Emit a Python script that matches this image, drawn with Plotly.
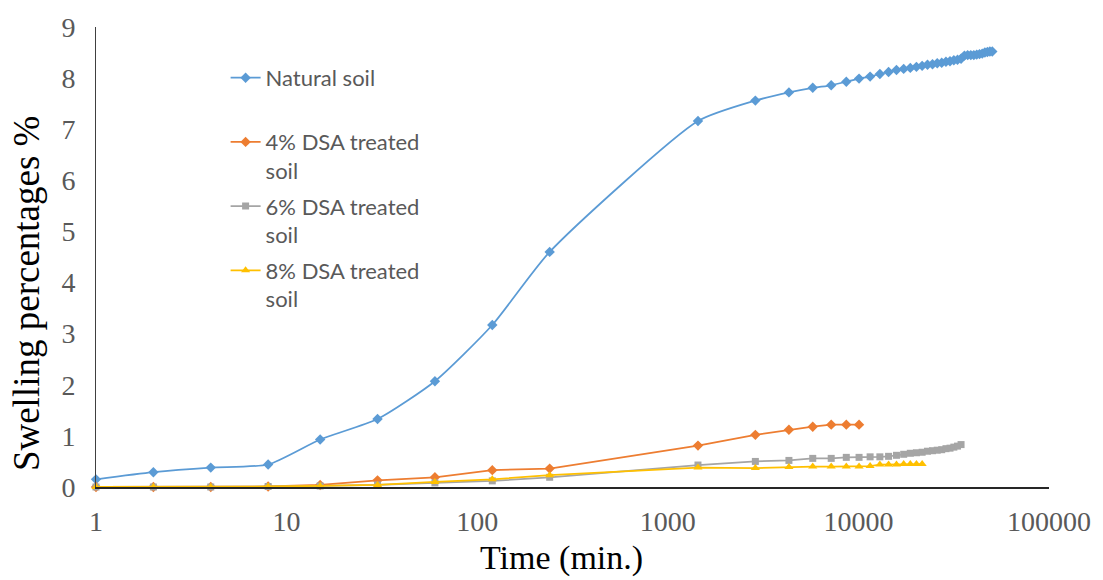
import plotly.graph_objects as go

natural_time = [1, 2, 4, 8, 15, 30, 60, 120, 240, 1440, 2880, 4320, 5760, 7200, 8640,
                10080, 11520, 12960, 14400, 15840, 17280, 18720, 20160, 21600, 23040,
                24480, 25920, 27360, 28800, 30240, 31680, 33120, 34560, 36000, 37440,
                38880, 40320, 41760, 43200, 44640, 46080, 47520, 48960, 50400]
natural_swell = [0.15, 0.29, 0.38, 0.44, 0.93, 1.33, 2.07, 3.17, 4.60,
                 7.16, 7.56, 7.72, 7.81, 7.86, 7.93, 7.99, 8.03, 8.08, 8.12, 8.16, 8.18,
                 8.20, 8.22, 8.24, 8.26, 8.27, 8.29, 8.30, 8.32, 8.33, 8.35, 8.36, 8.38,
                 8.44, 8.45, 8.45, 8.45, 8.46, 8.47, 8.48, 8.50, 8.51, 8.52, 8.52]

dsa4_time = [1, 2, 4, 8, 15, 30, 60, 120, 240, 1440, 2880, 4320, 5760, 7200, 8640, 10080]
dsa4_swell = [0.0, 0.0, 0.0, 0.01, 0.04, 0.13, 0.19, 0.33, 0.36, 0.81, 1.02, 1.12, 1.18,
              1.22, 1.22, 1.22]

dsa6_time = [1, 2, 4, 8, 15, 30, 60, 120, 240, 1440, 2880, 4320, 5760, 7200, 8640,
             10080, 11520, 12960, 14400, 15840, 17280, 18720, 20160, 21600, 23040,
             24480, 25920, 27360, 28800, 30240, 31680, 33120, 34560]
dsa6_swell = [0.0, 0.0, 0.0, 0.01, 0.02, 0.04, 0.08, 0.12, 0.19,
              0.43, 0.50, 0.52, 0.56, 0.56, 0.58, 0.58, 0.59, 0.59, 0.60, 0.62, 0.64,
              0.66, 0.67, 0.68, 0.70, 0.71, 0.72, 0.73, 0.75, 0.76, 0.78, 0.80, 0.83]

dsa8_time = [1, 2, 4, 8, 15, 30, 60, 120, 240, 1440, 2880, 4320, 5760, 7200, 8640,
             10080, 11520, 12960, 14400, 15840, 17280, 18720, 20160, 21600]
dsa8_swell = [0.0, 0.0, 0.0, 0.01, 0.02, 0.04, 0.10, 0.15, 0.23,
              0.38, 0.37, 0.39, 0.40, 0.40, 0.40, 0.40, 0.41, 0.44, 0.44, 0.44, 0.45,
              0.45, 0.45, 0.45]

x_tickvals = [1, 10, 100, 1000, 10000, 100000]
x_ticktext = ["1", "10", "100", "1000", "10000", "100000"]
y_tickvals = [0, 1, 2, 3, 4, 5, 6, 7, 8, 9]

fig = go.Figure()
fig.add_trace(go.Scatter(
    x=natural_time, y=natural_swell, mode="lines+markers", name="Natural soil<br> ",
    legendgroup="g1",
    line=dict(color="#5B9BD5", width=1.75, shape="spline", smoothing=0.6),
    marker=dict(symbol="diamond", size=8, color="#5B9BD5"), cliponaxis=False))
fig.add_trace(go.Scatter(
    x=dsa4_time, y=dsa4_swell, mode="lines+markers", name="4% DSA treated<br>soil",
    legendgroup="g2",
    line=dict(color="#ED7D31", width=1.75),
    marker=dict(symbol="diamond", size=8, color="#ED7D31"), cliponaxis=False))
fig.add_trace(go.Scatter(
    x=dsa6_time, y=dsa6_swell, mode="lines+markers", name="6% DSA treated<br>soil",
    legendgroup="g3",
    line=dict(color="#A5A5A5", width=1.75),
    marker=dict(symbol="square", size=7, color="#A5A5A5"), cliponaxis=False))
fig.add_trace(go.Scatter(
    x=dsa8_time, y=dsa8_swell, mode="lines+markers", name="8% DSA treated<br>soil",
    legendgroup="g4",
    line=dict(color="#FFC000", width=1.75),
    marker=dict(symbol="triangle-up", size=8, color="#FFC000"), cliponaxis=False))

tickfont = dict(family="Liberation Serif", size=28, color="#595959")
fig.update_layout(
    width=1103, height=580,
    margin=dict(l=96, r=52, t=20, b=93),
    paper_bgcolor="white", plot_bgcolor="white",
    showlegend=True,
    legend=dict(x=0.136, y=0.935, xanchor="left", yanchor="top",
                bgcolor="rgba(0,0,0,0)", valign="top",
                font=dict(family="Lato", size=22, color="#595959"),
                traceorder="grouped", tracegroupgap=4),
    xaxis=dict(type="log", range=[0, 5], tickvals=x_tickvals, ticktext=x_ticktext,
               showgrid=False, zeroline=False, showline=True, linecolor="#262626",
               linewidth=2, ticks="", tickfont=tickfont, ticklabelstandoff=8),
    yaxis=dict(range=[0, 9], tickvals=y_tickvals, showgrid=False, zeroline=False,
               showline=True, linecolor="#404040", linewidth=1, ticks="",
               tickfont=tickfont, ticklabelstandoff=14),
    annotations=[
        dict(text="Time (min.)", x=0, y=0, xref="paper", yref="paper",
             xanchor="center", yanchor="middle",
             showarrow=False, font=dict(family="Liberation Serif", size=34, color="black")),
        dict(text="Swelling percentages %", x=0, y=0, xref="paper", yref="paper",
             xanchor="center", yanchor="middle",
             showarrow=False, textangle=-90,
             font=dict(family="Liberation Serif", size=37, color="black")),
    ],
)

# position axis titles in pixel terms converted to paper coordinates
pw = 1103 - 96 - 52
ph = 580 - 20 - 93
fig.layout.annotations[0].update(x=(562 - 96) / pw, y=(487 - 559) / ph)
fig.layout.annotations[1].update(x=(27 - 96) / pw, y=(487 - 290) / ph)

fig.write_html("out.html")
